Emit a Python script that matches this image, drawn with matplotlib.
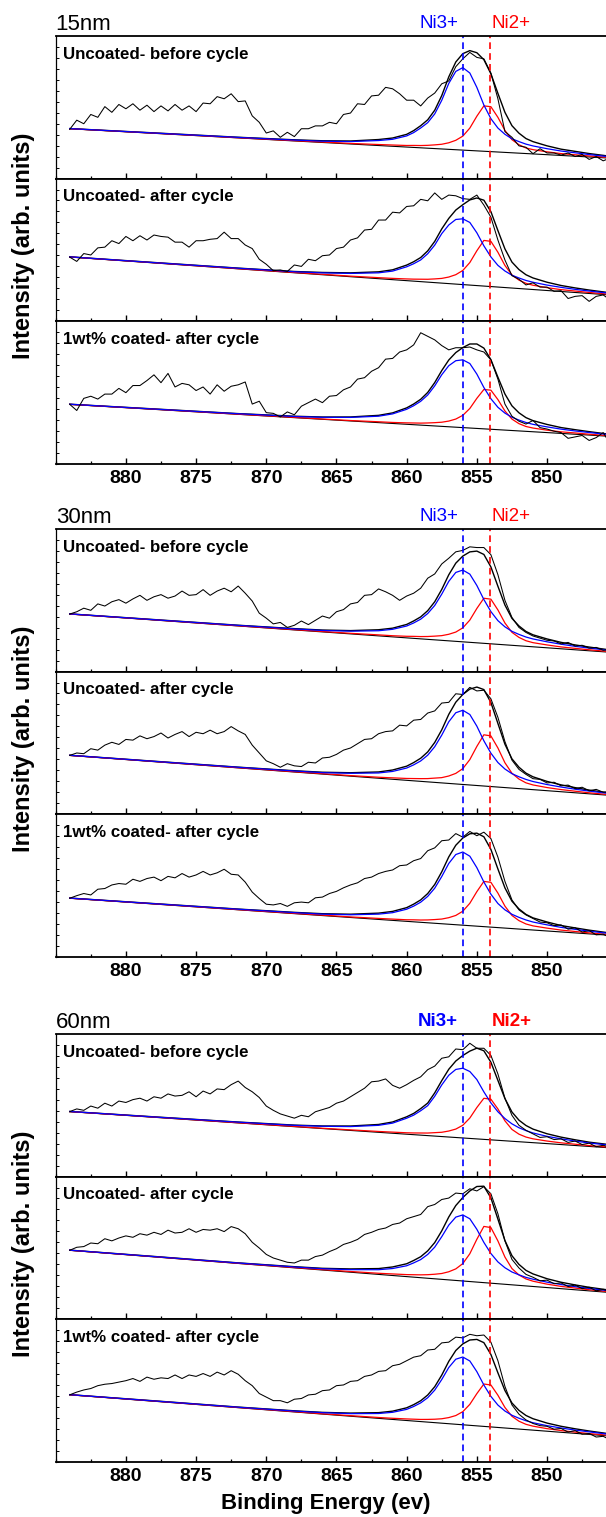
import numpy as np
import matplotlib.pyplot as plt
from matplotlib.ticker import FixedLocator, MultipleLocator

plt.rcParams['font.family'] = ['Liberation Sans', 'DejaVu Sans']

# binding energy grids (eV)
E_RAW = np.arange(884.0, 845.4, -0.5)
FIT_E = [884, 878, 872, 868, 866, 864, 862, 861, 860, 859.5, 859, 858.5, 858, 857.5,
         857, 856.5, 856, 855.5, 855, 854.5, 854, 853.5, 853, 852.5, 852, 851.5, 851,
         850, 849, 848, 847, 845.5]
BG_E = [884.0, 845.5]
X_TICKS = [880, 875, 870, 865, 860, 855, 850]

GROUPS = ['15nm', '30nm', '60nm']
PANEL_LABELS = ['Uncoated- before cycle', 'Uncoated- after cycle', '1wt% coated- after cycle']
NI3_POS = 856.0
NI2_POS = 854.05

# measured spectra (arb. units, 0-100 per panel)
RAW_15_BEFORE = [34.6, 41, 38.5, 45, 43, 50.5, 46.5, 52, 49, 52.5,
                 48, 51.5, 47, 51, 47.5, 52, 48, 51, 47, 53,
                 52.5, 57.5, 56, 59.5, 54, 54.5, 44, 39.5, 32, 33.5,
                 29, 32.5, 29.5, 35, 35, 37, 37, 39.5, 38.5, 45,
                 46, 52.5, 52, 58, 58.5, 64, 63, 59.5, 55, 55,
                 51, 56.5, 60, 66.5, 68.5, 78.5, 84, 88.5, 85, 84,
                 74, 56, 33, 29, 23, 22, 17.5, 21, 18, 18,
                 16.5, 18, 15.5, 17, 13.5, 15.5, 12.5, 14.5]
RAW_15_AFTER = [45, 42, 47.5, 46.5, 51.5, 52, 56.5, 54.5, 59.5, 56.5,
                60, 57, 60.5, 59.5, 59, 55.5, 55.5, 52, 56.5, 56.5,
                57.5, 58, 62.5, 58, 58, 53.5, 51, 43.5, 40, 35.5,
                36, 35, 39.5, 38.5, 43.5, 42.5, 46, 46.5, 51, 52,
                57, 58.5, 64, 64.5, 71, 71, 76.5, 76, 80.5, 81,
                85.5, 84.5, 90, 85.5, 88.5, 88, 86, 85.5, 88.5, 81.5,
                73, 57, 43, 32, 29.5, 25.5, 27, 24, 24, 21,
                21.5, 16, 17.5, 18, 14, 17.5, 18.5, 15]
RAW_15_COATED = [41.8, 37.5, 46, 47.5, 45.5, 49, 49, 53, 50, 55,
                 55, 58.5, 62.5, 57, 63.5, 54, 56.5, 55.5, 51.5, 54,
                 49, 55.5, 51, 54.5, 55.5, 57.5, 42, 44, 36, 35.5,
                 33, 36.5, 34.5, 40.5, 43, 45.5, 43, 47.5, 48, 52,
                 54, 59.5, 60.5, 65, 67.5, 73.5, 74, 78.5, 80, 83.5,
                 92, 89.5, 87, 83, 80, 81.5, 81.5, 82, 80, 78.5,
                 73, 59.5, 42, 33.5, 30, 28, 30.5, 25.5, 24.5, 23,
                 22, 18, 19, 20, 16.5, 18.5, 22, 14]
RAW_30_BEFORE = [40.4, 42, 44.5, 43, 47.5, 46, 49, 50.5, 48, 51,
                 53.5, 50, 52.5, 54, 51.5, 53, 56.5, 53.5, 54, 57.5,
                 53.5, 56.5, 58.5, 56, 60, 55, 49.5, 41, 37.5, 33.5,
                 34.5, 31, 32.5, 35.5, 33, 36, 39, 37.5, 42, 43.5,
                 47.5, 48.5, 53.5, 54, 58, 56, 53.5, 50, 53, 55,
                 58.5, 65.5, 68.5, 75.5, 79.5, 84, 85, 87.5, 87, 87,
                 82, 68, 50, 38, 31, 27.5, 25, 23.5, 22, 21.5,
                 19.5, 20.5, 18, 18.5, 16.5, 17, 15, 15.5]
RAW_30_AFTER = [41.3, 43, 42.5, 46, 45, 48.5, 50.5, 49, 52.5, 52,
                55, 53, 54.5, 57, 53.5, 56, 58, 54.5, 57.5, 56.5,
                59, 56.5, 58, 61.5, 58.5, 56, 48.5, 43, 37.5, 35.5,
                33, 35.5, 34, 33.5, 36.5, 36, 39.5, 40, 42, 45,
                46.5, 49.5, 52.5, 53, 56.5, 58, 58.5, 62.5, 62, 66,
                66.5, 71, 72.5, 78, 78.5, 84.5, 84, 89, 86.5, 87,
                81, 68, 51, 38, 31.5, 28, 25, 24.5, 22, 22.5,
                20, 20.5, 18, 19, 16.5, 17.5, 15.5, 16]
RAW_30_COATED = [41.2, 43, 44.5, 43.5, 47.5, 48, 50.5, 51.5, 51, 54.5,
                 53, 55, 56, 53.5, 56.5, 55.5, 58.5, 56, 57.5, 60,
                 57.5, 59, 61.5, 58, 57.5, 52.5, 45.5, 41, 37, 36.5,
                 37.5, 35.5, 38, 38.5, 38, 41.5, 42, 44.5, 46, 48.5,
                 50.5, 52, 55, 56, 58.5, 60, 61, 64, 64.5, 67.5,
                 69, 74.5, 76.5, 81.5, 82, 86.5, 84, 88, 85, 87.5,
                 83, 70, 53, 40, 33, 29.5, 27, 24.5, 24, 22,
                 22.5, 19.5, 20.5, 17.5, 18.5, 15.5, 16, 13.5]
RAW_60_BEFORE = [45.6, 47.5, 46.5, 49.5, 48, 51.5, 49.5, 53, 52, 54,
                 55, 53, 56, 55, 58, 56.5, 57, 59.5, 56, 60,
                 58, 61.5, 61, 64.5, 67, 62.5, 59.5, 55.5, 49.5, 46.5,
                 44, 42.5, 41, 43, 42, 45.5, 47, 48.5, 51.5, 53,
                 56, 59, 62, 66.5, 67, 68.5, 64, 62, 64.5, 67.5,
                 70, 75, 77.5, 83, 84, 89.5, 89, 93.5, 90, 90,
                 85, 72, 55, 43, 36, 32.5, 30, 27.5, 28, 26,
                 26.5, 24, 25, 22.5, 23.5, 21, 22, 20.5]
RAW_60_AFTER = [48.4, 50.5, 51, 53.5, 53, 56.5, 55, 57, 58.5, 57.5,
                60, 59, 61, 59.5, 62.5, 60.5, 61, 63.5, 61, 63,
                62.5, 63.5, 61.5, 65, 63.5, 60, 54, 50, 45.5, 43,
                41.5, 40, 39.5, 41.5, 41.5, 44, 45, 47.5, 49.5, 52.5,
                54, 56, 59.5, 61, 63, 64, 66.5, 67.5, 70.5, 72,
                73.5, 79, 80.5, 84, 85, 88.5, 88, 91.5, 90, 93,
                88, 74, 55, 42, 36, 31.5, 29.5, 27, 27.5, 25,
                25.5, 23, 24, 21.5, 22.5, 20, 21, 19.5]
RAW_60_COATED = [47.1, 49, 50.5, 51.5, 53.5, 54.5, 55, 56, 57, 58.5,
                 56.5, 59.5, 58, 59, 58.5, 61, 58.5, 61, 60, 62,
                 60, 63, 61, 64, 61.5, 57, 53.5, 48, 45.5, 43,
                 43, 41.5, 44, 44.5, 47, 47.5, 50, 50.5, 53.5, 54,
                 56.5, 57, 60, 61, 63.5, 64, 67.5, 68.5, 71, 73.5,
                 74.5, 78.5, 79, 83.5, 84, 87.5, 87, 89.5, 88.5, 89,
                 84, 71, 53, 40, 33.5, 29.5, 27, 25.5, 25, 23,
                 23.5, 21, 22, 19.5, 20, 17.5, 18, 15.5]

# linear background (value at 884 eV, value at 845.5 eV)
BG_15_BEFORE = [35.0, 14.4]
BG_15_AFTER = [45.1, 18.5]
BG_15_COATED = [41.8, 19.4]
BG_30_BEFORE = [40.4, 13.6]
BG_30_AFTER = [41.3, 13.3]
BG_30_COATED = [41.2, 15.2]
BG_60_BEFORE = [45.6, 20.2]
BG_60_AFTER = [48.4, 18.8]
BG_60_COATED = [47.1, 18.2]

# fitted Ni3+ (blue) and Ni2+ (red) components, height above background
NI3_15_BEFORE = [0.1, 0.2, 0.35, 0.6, 0.9, 1.7, 3.5, 4.9, 7.8, 10.4, 13.9, 17.9, 24.3, 34.1, 46.2, 54.9,
                 57.8, 54.3, 44.5, 32.4, 23.1, 16.8, 12.7, 9.8, 8.1, 6.6, 5.6, 4.2, 3.1, 2.4, 1.7, 0.9]
NI2_15_BEFORE = [0.0, 0.1, 0.1, 0.2, 0.3, 0.4, 0.7, 0.9, 1.1, 1.4, 1.6, 2.0, 2.6, 3.3, 4.6, 6.6,
                 9.8, 15.7, 24.3, 31.8, 31.5, 24.3, 15.4, 9.2, 5.9, 3.9, 3.0, 2.0, 1.3, 1.0, 0.7, 0.4]
NI3_15_AFTER = [0.1, 0.2, 0.4, 0.7, 1.3, 2.3, 4.1, 6.0, 9.7, 12.2, 15.2, 19.9, 26.3, 34.7, 41.1, 45.3,
                46.1, 43.9, 37.0, 28.2, 20.8, 15.2, 11.6, 9.0, 7.4, 6.0, 5.1, 3.8, 2.9, 2.2, 1.7, 1.1]
NI2_15_AFTER = [0.0, 0.1, 0.1, 0.2, 0.3, 0.4, 0.7, 0.9, 1.2, 1.4, 1.7, 2.0, 2.6, 3.3, 4.6, 6.6,
                9.9, 15.8, 24.4, 32.0, 31.7, 24.4, 15.5, 9.2, 5.9, 4.0, 3.0, 2.0, 1.3, 1.0, 0.7, 0.4]
NI3_15_COATED = [0.1, 0.2, 0.4, 0.8, 1.4, 2.5, 4.5, 6.7, 10.5, 13.3, 16.7, 21.4, 28.1, 36.2, 42.8, 46.6,
                 47.5, 45.2, 38.1, 29.0, 21.4, 15.7, 11.9, 9.3, 7.6, 6.2, 5.2, 4.0, 3.0, 2.3, 1.8, 1.1]
NI2_15_COATED = [0.0, 0.1, 0.1, 0.2, 0.2, 0.3, 0.6, 0.7, 1.0, 1.2, 1.4, 1.8, 2.3, 2.9, 4.0, 5.7,
                 8.6, 13.7, 21.1, 27.6, 27.4, 21.1, 13.4, 8.0, 5.1, 3.4, 2.6, 1.7, 1.1, 0.9, 0.6, 0.3]
NI3_30_BEFORE = [0.1, 0.2, 0.4, 0.7, 1.0, 1.9, 3.6, 5.3, 8.3, 10.8, 13.8, 18.1, 24.1, 32.4, 41.7, 48.3,
                 50.3, 47.8, 40.2, 30.7, 22.6, 16.6, 12.6, 9.8, 8.0, 6.5, 5.5, 4.2, 3.2, 2.4, 1.9, 1.2]
NI2_30_BEFORE = [0.0, 0.1, 0.1, 0.2, 0.3, 0.4, 0.7, 0.8, 1.1, 1.4, 1.6, 2.0, 2.6, 3.3, 4.6, 6.5,
                 9.8, 15.6, 24.1, 31.6, 31.3, 24.1, 15.3, 9.1, 5.9, 3.9, 2.9, 2.0, 1.3, 1.0, 0.7, 0.4]
NI3_30_AFTER = [0.1, 0.2, 0.4, 0.7, 1.0, 2.0, 3.7, 5.5, 8.6, 11.2, 14.3, 18.7, 25.0, 33.5, 43.2, 49.9,
                52.0, 49.4, 41.6, 31.7, 23.4, 17.2, 13.0, 10.1, 8.3, 6.8, 5.7, 4.3, 3.3, 2.5, 1.9, 1.2]
NI2_30_AFTER = [0.0, 0.1, 0.1, 0.2, 0.3, 0.4, 0.7, 1.0, 1.3, 1.6, 1.9, 2.3, 3.0, 3.7, 5.2, 7.4,
                11.1, 17.8, 27.4, 35.9, 35.5, 27.4, 17.4, 10.4, 6.7, 4.4, 3.3, 2.2, 1.5, 1.1, 0.7, 0.4]
NI3_30_COATED = [0.1, 0.2, 0.4, 0.7, 1.0, 1.9, 3.7, 5.4, 8.5, 11.0, 14.1, 18.5, 24.6, 33.1, 42.6, 49.2,
                 51.3, 48.7, 41.0, 31.3, 23.1, 16.9, 12.8, 10.0, 8.2, 6.7, 5.6, 4.3, 3.2, 2.5, 1.9, 1.2]
NI2_30_COATED = [0.0, 0.1, 0.1, 0.2, 0.3, 0.4, 0.7, 0.9, 1.1, 1.4, 1.6, 2.0, 2.6, 3.3, 4.6, 6.5,
                 9.8, 15.7, 24.2, 31.7, 31.4, 24.2, 15.4, 9.2, 5.9, 3.9, 2.9, 2.0, 1.3, 1.0, 0.7, 0.4]
NI3_60_BEFORE = [0.1, 0.2, 0.5, 0.9, 1.6, 2.7, 4.9, 7.1, 11.2, 13.7, 17.1, 21.0, 27.9, 36.2, 43.3, 47.7,
                 48.9, 46.9, 41.6, 33.3, 25.9, 20.0, 15.6, 12.2, 9.8, 8.1, 6.8, 5.1, 4.0, 3.1, 2.4, 1.8]
NI2_60_BEFORE = [0.0, 0.1, 0.1, 0.2, 0.2, 0.4, 0.6, 0.8, 1.0, 1.2, 1.5, 1.8, 2.4, 3.0, 4.2, 5.9,
                 8.9, 14.3, 22.0, 28.8, 28.5, 22.0, 14.0, 8.3, 5.3, 3.6, 2.7, 1.8, 1.2, 0.9, 0.6, 0.4]
NI3_60_AFTER = [0.1, 0.2, 0.3, 0.6, 0.9, 1.8, 3.3, 4.9, 7.6, 10.0, 12.7, 16.7, 22.2, 29.9, 38.4, 44.4,
                46.3, 44.0, 37.0, 28.2, 20.8, 15.3, 11.6, 9.0, 7.4, 6.0, 5.1, 3.8, 2.9, 2.2, 1.7, 1.1]
NI2_60_AFTER = [0.0, 0.1, 0.1, 0.2, 0.3, 0.5, 0.8, 1.1, 1.4, 1.7, 2.0, 2.5, 3.2, 4.1, 5.7, 8.1,
                12.2, 19.5, 30.0, 39.4, 39.0, 30.0, 19.1, 11.4, 7.3, 4.9, 3.7, 2.4, 1.6, 1.2, 0.8, 0.5]
NI3_60_COATED = [0.1, 0.2, 0.3, 0.6, 1.0, 1.8, 3.4, 5.0, 7.8, 10.2, 13.1, 17.1, 22.8, 30.6, 39.4, 45.6,
                 47.5, 45.1, 38.0, 29.0, 21.4, 15.7, 11.9, 9.3, 7.6, 6.2, 5.2, 3.9, 3.0, 2.3, 1.8, 1.1]
NI2_60_COATED = [0.0, 0.1, 0.1, 0.2, 0.2, 0.4, 0.6, 0.8, 1.1, 1.3, 1.5, 1.9, 2.4, 3.1, 4.3, 6.1,
                 9.2, 14.7, 22.6, 29.7, 29.4, 22.6, 14.4, 8.6, 5.5, 3.7, 2.8, 1.8, 1.2, 0.9, 0.6, 0.4]

panels = [
    [(RAW_15_BEFORE, BG_15_BEFORE, NI3_15_BEFORE, NI2_15_BEFORE),
     (RAW_15_AFTER, BG_15_AFTER, NI3_15_AFTER, NI2_15_AFTER),
     (RAW_15_COATED, BG_15_COATED, NI3_15_COATED, NI2_15_COATED)],
    [(RAW_30_BEFORE, BG_30_BEFORE, NI3_30_BEFORE, NI2_30_BEFORE),
     (RAW_30_AFTER, BG_30_AFTER, NI3_30_AFTER, NI2_30_AFTER),
     (RAW_30_COATED, BG_30_COATED, NI3_30_COATED, NI2_30_COATED)],
    [(RAW_60_BEFORE, BG_60_BEFORE, NI3_60_BEFORE, NI2_60_BEFORE),
     (RAW_60_AFTER, BG_60_AFTER, NI3_60_AFTER, NI2_60_AFTER),
     (RAW_60_COATED, BG_60_COATED, NI3_60_COATED, NI2_60_COATED)],
]

W, H = 606, 1517
LEFT = 55.7
GROUP_TOP = [36, 529, 1034]
GROUP_H = 428
PH = GROUP_H / 3

fig = plt.figure(figsize=(W / 100, H / 100), dpi=100)
fit_e = np.array(FIT_E)

for g in range(3):
    for i in range(3):
        raw, bg_ends, ni3, ni2 = panels[g][i]
        y_bottom = GROUP_TOP[g] + PH * (i + 1)
        ax = fig.add_axes([LEFT / W, 1 - y_bottom / H, (W - LEFT) / W, PH / H])

        # straight background evaluated on the fit grid
        bg = np.interp(fit_e[::-1], BG_E[::-1], bg_ends[::-1])[::-1]
        blue = bg + np.array(ni3)
        red = bg + np.array(ni2)
        env = bg + np.array(ni3) + np.array(ni2)

        ax.plot(BG_E, bg_ends, color='black', lw=0.8)
        ax.plot(FIT_E, env, color='black', lw=1.0)
        ax.plot(FIT_E, red, color='red', lw=0.9)
        ax.plot(FIT_E, blue, color='blue', lw=0.9)
        ax.plot(E_RAW, raw, color='black', lw=0.75)

        ax.axvline(NI3_POS, color='blue', lw=1.2, ls=(0, (4, 2.5)))
        ax.axvline(NI2_POS, color='red', lw=1.2, ls=(0, (4, 2.5)))

        ax.set_xlim(885, 845.8)
        ax.set_ylim(0, 100)
        ax.spines['right'].set_visible(False)
        for s in ['top', 'bottom']:
            ax.spines[s].set_linewidth(1.3)
        ax.spines['left'].set_linewidth(0.9)

        ax.xaxis.set_major_locator(FixedLocator(X_TICKS))
        ax.xaxis.set_minor_locator(MultipleLocator(2.5))
        ax.yaxis.set_major_locator(MultipleLocator(7.7))
        ax.tick_params(axis='x', which='major', direction='in', length=4.5, width=1.0)
        ax.tick_params(axis='x', which='minor', direction='in', length=2.5, width=0.9)
        ax.tick_params(axis='y', which='major', direction='in', length=2.2, width=0.7, labelleft=False)
        if i < 2:
            ax.tick_params(axis='x', labelbottom=False)
        else:
            ax.tick_params(axis='x', labelsize=14, pad=4)
            for lab in ax.get_xticklabels():
                lab.set_fontweight('bold')

        ax.text(0.013, 0.925, PANEL_LABELS[i], transform=ax.transAxes,
                ha='left', va='top', fontsize=12.2, fontweight='bold')

        if i == 0:
            weight = 'bold' if g == 2 else 'normal'
            ax.text(0.0, 1.045, GROUPS[g], transform=ax.transAxes,
                    ha='left', va='baseline', fontsize=16)
            ax.text(NI3_POS + 0.35, 1.055, 'Ni3+', color='blue', ha='right',
                    va='baseline', fontsize=13.5, fontweight=weight,
                    transform=ax.get_xaxis_transform())
            ax.text(NI2_POS - 0.1, 1.055, 'Ni2+', color='red', ha='left',
                    va='baseline', fontsize=13.5, fontweight=weight,
                    transform=ax.get_xaxis_transform())

    yc = GROUP_TOP[g] + GROUP_H / 2 - 4
    fig.text(24 / W, 1 - yc / H, 'Intensity (arb. units)', rotation=90,
             ha='center', va='center', fontsize=17, fontweight='bold')

fig.text(326 / W, 1 - 1503 / H, 'Binding Energy (ev)', ha='center', va='center',
         fontsize=16, fontweight='bold')

fig.savefig('out.png', dpi=100)
